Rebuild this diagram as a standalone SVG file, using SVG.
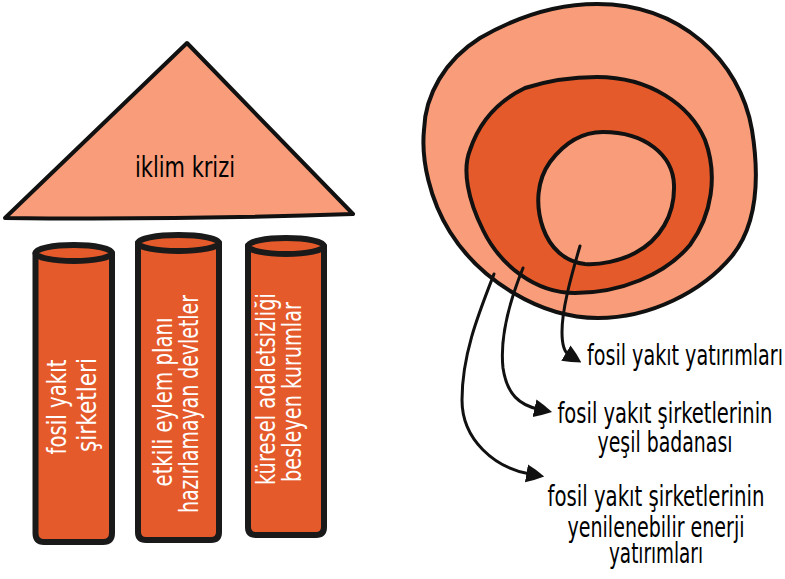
<svg xmlns="http://www.w3.org/2000/svg" width="785" height="579" viewBox="0 0 785 579">
<defs>
<style>
.light{fill:#F99C79;stroke:#111;stroke-width:4;stroke-linejoin:round}
.dark{fill:#E55A2B;stroke:#111;stroke-width:4;stroke-linejoin:round}
.pil{fill:#E55A2B;stroke:#1a1a1a;stroke-width:6;stroke-linejoin:round}
.ptxt{font-family:"Liberation Sans Narrow","DejaVu Sans Condensed","Liberation Sans",sans-serif;font-size:26px;fill:#fff;text-anchor:middle}
.lbl{font-family:"Liberation Sans Narrow","DejaVu Sans Condensed","Liberation Sans",sans-serif;font-size:29px;fill:#000}
.lblc{font-family:"Liberation Sans Narrow","DejaVu Sans Condensed","Liberation Sans",sans-serif;font-size:28px;fill:#000;text-anchor:middle}
.conn{fill:none;stroke:#111;stroke-width:3;stroke-linecap:round}
</style>
<marker id="ah" viewBox="0 0 10 10" refX="2" refY="5" markerWidth="18" markerHeight="21" markerUnits="userSpaceOnUse" orient="auto">
<path d="M0,0 Q5,2 10,5 Q5,8 0,10 Z" fill="#111"/>
</marker>
</defs>
<rect width="785" height="579" fill="#fff"/>

<g id="roof">
<path class="light" d="M187,43 L353,214 Q180,220 5,218 Z"/>
<text class="lbl" x="135" y="177" font-size="31" textLength="100" lengthAdjust="spacingAndGlyphs">iklim krizi</text>
</g>

<g id="pillar1">
<path class="pil" d="M35.5,253 L35.5,533 Q35.5,542 44,542 L103,542 Q112,542 112,533 L112,253 Z"/>
<ellipse class="pil" cx="73.75" cy="253" rx="38.25" ry="8"/>
<text class="ptxt" transform="translate(66,407) rotate(-90)" textLength="95" lengthAdjust="spacingAndGlyphs">fosil yakıt</text>
<text class="ptxt" transform="translate(96,405) rotate(-90)" textLength="94" lengthAdjust="spacingAndGlyphs">şirketleri</text>
</g>

<g id="pillar2">
<path class="pil" d="M138,243 L138,532 Q138,540 146,540 L211,540 Q219,540 219,532 L219,243 Z"/>
<ellipse class="pil" cx="178.5" cy="243" rx="40.5" ry="8"/>
<text class="ptxt" transform="translate(172,402) rotate(-90)" textLength="169" lengthAdjust="spacingAndGlyphs">etkili eylem planı</text>
<text class="ptxt" transform="translate(198,404) rotate(-90)" textLength="218" lengthAdjust="spacingAndGlyphs">hazırlamayan devletler</text>
</g>

<g id="pillar3">
<path class="pil" d="M248,246 L248,527 Q248,535 256,535 L316,535 Q324,535 324,527 L324,246 Z"/>
<ellipse class="pil" cx="286" cy="246" rx="38" ry="8"/>
<text class="ptxt" transform="translate(275,389) rotate(-90)" textLength="192" lengthAdjust="spacingAndGlyphs">küresel adaletsizliği</text>
<text class="ptxt" transform="translate(301,392) rotate(-90)" textLength="180" lengthAdjust="spacingAndGlyphs">besleyen kurumlar</text>
</g>

<g id="rings">
<path class="light" d="M597,4 C680,4 740,60 752,130 C760,180 757,225 732,256 C702,292 650,318 598,318 C540,318 480,280 450,232 C430,200 421,160 424,130 C425,95 445,60 480,38 C520,15 560,4 597,4 Z"/>
<path class="dark" d="M597,77 C650,77 690,105 705,140 C718,175 712,215 690,245 C665,275 620,293 575,293 C535,293 500,265 483,230 C468,200 462,170 470,150 C480,120 500,100 525,88 C550,80 575,77 597,77 Z"/>
<path class="light" d="M603,132 C645,132 673,155 674,185 C675,215 660,240 635,253 C620,261 600,265 585,264 C565,262 550,248 543,228 C535,205 537,180 550,162 C565,142 583,132 603,132 Z"/>
</g>

<g id="connectors">
<path class="conn" marker-end="url(#ah)" d="M580,246 C570,280 562,310 562,332 C562,345 564,352 569,355"/>
<path class="conn" marker-end="url(#ah)" d="M523,268 C508,305 500,340 503,368 C507,395 520,405 538,409"/>
<path class="conn" marker-end="url(#ah)" d="M494,274 C478,315 462,355 462,400 C462,440 495,468 530,474"/>
</g>

<g id="label1">
<text class="lbl" x="587" y="365" textLength="196" lengthAdjust="spacingAndGlyphs">fosil yakıt yatırımları</text>
</g>
<g id="label2">
<text class="lblc" x="665" y="423" textLength="215" lengthAdjust="spacingAndGlyphs">fosil yakıt şirketlerinin</text>
<text class="lblc" x="665" y="452" textLength="135" lengthAdjust="spacingAndGlyphs">yeşil badanası</text>
</g>
<g id="label3">
<text class="lblc" x="656" y="506" textLength="217" lengthAdjust="spacingAndGlyphs">fosil yakıt şirketlerinin</text>
<text class="lblc" x="656" y="537" textLength="177" lengthAdjust="spacingAndGlyphs">yenilenebilir enerji</text>
<text class="lblc" x="656" y="563" textLength="94" lengthAdjust="spacingAndGlyphs">yatırımları</text>
</g>
</svg>
